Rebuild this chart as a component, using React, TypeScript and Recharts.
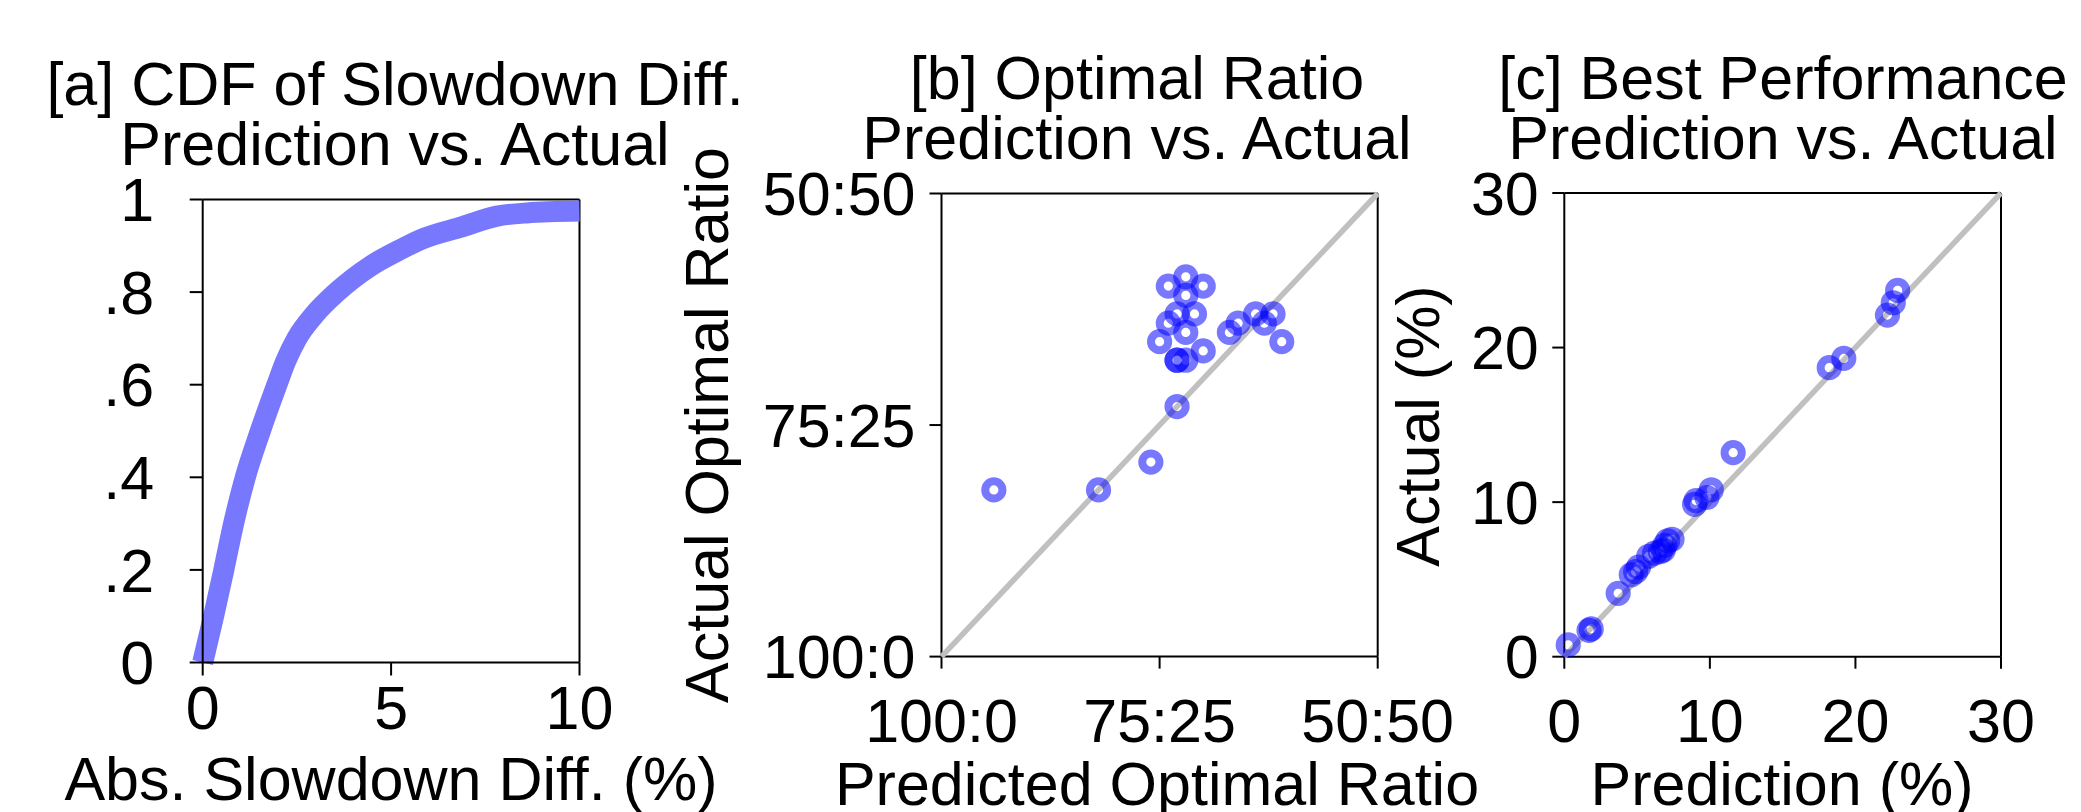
import {
    LineChart,
    Line,
    ScatterChart,
    Scatter,
    XAxis,
    YAxis,
    ReferenceLine,
} from "recharts";

// [a] CDF of |slowdown diff|
const cdfDiff = [0, 0.29, 0.56, 0.82, 1.13, 1.53, 1.97, 2.2, 2.5, 2.95, 3.56, 4.45, 5.2, 5.77, 6.92, 7.81, 8.6, 10];
const cdfFrac = [0, 0.1, 0.2, 0.3, 0.4, 0.5, 0.6, 0.65, 0.7, 0.75, 0.8, 0.856, 0.89, 0.913, 0.942, 0.964, 0.971, 0.975];
const cdfTicksX = [0, 5, 10];
const cdfTicksY = [0, 0.2, 0.4, 0.6, 0.8, 1];

// [b] optimal ratio (second share of the split, 0..50)
const ratioPred = [6, 18, 24, 27, 27, 27, 28, 30, 25, 28, 26, 27, 29, 26, 28, 30, 28, 33, 34, 36, 37, 38, 39];
const ratioActual = [18, 18, 21, 27, 32, 32, 32, 33, 34, 35, 36, 37, 37, 40, 41, 40, 39, 35, 36, 37, 36, 37, 34];
const ratioTicks = [0, 25, 50];

// [c] best performance (%)
const perfPred = [0.27, 1.7, 1.85, 3.7, 4.6, 4.9, 5.1, 5.8, 6.2, 6.6, 6.9, 7.1, 7.4, 6.8, 8.95, 9.05, 9.8, 10.1, 11.6, 18.2, 19.2, 22.2, 22.6, 22.9];
const perfActual = [0.76, 1.7, 1.8, 4.1, 5.3, 5.5, 5.8, 6.5, 6.7, 6.8, 7.2, 7.5, 7.6, 6.9, 9.85, 10.1, 10.3, 10.8, 13.2, 18.7, 19.3, 22.1, 22.9, 23.7];
const perfTicks = [0, 10, 20, 30];

const FONT = "'Liberation Sans', Arial, Helvetica, sans-serif";
const tickStyle = { fontFamily: FONT, fontSize: 61, fill: "#000" };
const axisLine = { stroke: "#000", strokeWidth: 2 };

const cdfData = cdfDiff.map((x, i) => ({ x, y: cdfFrac[i] }));
const ratioData = ratioPred.map((x, i) => ({ x, y: ratioActual[i] }));
const perfData = perfPred.map((x, i) => ({ x, y: perfActual[i] }));
// y = x guide lines, from corner to corner of each domain
const ratioDiag = [0, 50].map((v) => ({ x: v, y: v }));
const perfDiag = [0, 30].map((v) => ({ x: v, y: v }));

const fracLabel = (v: number) => (v === 0 ? "0" : v === 1 ? "1" : "." + Math.round(v * 10));
const ratioLabel = (v: number) => `${100 - v}:${v}`;

const Ring = (props: any) => (
    <circle
        cx={props.cx}
        cy={props.cy}
        r={8.6}
        fill="none"
        stroke="#0000ff"
        strokeOpacity={0.53}
        strokeWidth={8}
    />
);
const NoDot = () => <g />;
const diagLine = { stroke: "#c0c0c0", strokeWidth: 5.5 };

export default function App() {
    return (
        <div style={{ position: "absolute", left: 0, top: 0, width: 2081, height: 812, background: "#fff" }}>
            <div style={{ position: "absolute", left: 0, top: 0 }}>
                <LineChart
                    width={620}
                    height={812}
                    data={cdfData}
                    margin={{ top: 199.5, right: 40.5, left: 0, bottom: 0 }}
                >
                    <XAxis
                        dataKey="x"
                        type="number"
                        domain={[0, 10]}
                        ticks={cdfTicksX}
                        interval={0}
                        height={149.5}
                        tickSize={13}
                        tickMargin={10.5}
                        axisLine={axisLine}
                        tickLine={axisLine}
                        tick={tickStyle}
                    />
                    <YAxis
                        type="number"
                        domain={[0, 1]}
                        ticks={cdfTicksY}
                        interval={0}
                        width={202.7}
                        tickSize={13}
                        tickMargin={35.5}
                        tickFormatter={fracLabel}
                        axisLine={axisLine}
                        tickLine={axisLine}
                        tick={tickStyle}
                    />
                    <ReferenceLine y={1} stroke="#000" strokeWidth={2} />
                    <ReferenceLine x={10} stroke="#000" strokeWidth={2} />
                    <Line
                        type="monotone"
                        dataKey="y"
                        stroke="#7878ff"
                        strokeWidth={21}
                        dot={false}
                        activeDot={false}
                        isAnimationActive={false}
                    />
                </LineChart>
            </div>

            <div style={{ position: "absolute", left: 760, top: 0 }}>
                <ScatterChart
                    width={740}
                    height={812}
                    margin={{ top: 193.5, right: 122.3, left: 0, bottom: 0 }}
                >
                    <XAxis
                        dataKey="x"
                        type="number"
                        domain={[0, 50]}
                        ticks={ratioTicks}
                        interval={0}
                        height={155.4}
                        tickSize={12}
                        tickMargin={30}
                        tickFormatter={ratioLabel}
                        axisLine={axisLine}
                        tickLine={axisLine}
                        tick={tickStyle}
                    />
                    <YAxis
                        dataKey="y"
                        type="number"
                        domain={[0, 50]}
                        ticks={ratioTicks}
                        interval={0}
                        width={181.5}
                        tickSize={12}
                        tickMargin={14}
                        tickFormatter={ratioLabel}
                        axisLine={axisLine}
                        tickLine={axisLine}
                        tick={tickStyle}
                    />
                    <ReferenceLine y={50} stroke="#000" strokeWidth={2} />
                    <ReferenceLine x={50} stroke="#000" strokeWidth={2} />
                    <Scatter data={ratioDiag} line={diagLine} shape={NoDot} isAnimationActive={false} />
                    <Scatter data={ratioData} shape={Ring} isAnimationActive={false} />
                </ScatterChart>
            </div>

            <div style={{ position: "absolute", left: 1400, top: 0 }}>
                <ScatterChart
                    width={660}
                    height={812}
                    margin={{ top: 193, right: 59, left: 0, bottom: 0 }}
                >
                    <XAxis
                        dataKey="x"
                        type="number"
                        domain={[0, 30]}
                        ticks={perfTicks}
                        interval={0}
                        height={155.3}
                        tickSize={12}
                        tickMargin={30}
                        axisLine={axisLine}
                        tickLine={axisLine}
                        tick={tickStyle}
                    />
                    <YAxis
                        dataKey="y"
                        type="number"
                        domain={[0, 30]}
                        ticks={perfTicks}
                        interval={0}
                        width={164.3}
                        tickSize={12}
                        tickMargin={13.5}
                        axisLine={axisLine}
                        tickLine={axisLine}
                        tick={tickStyle}
                    />
                    <ReferenceLine y={30} stroke="#000" strokeWidth={2} />
                    <ReferenceLine x={30} stroke="#000" strokeWidth={2} />
                    <Scatter data={perfDiag} line={diagLine} shape={NoDot} isAnimationActive={false} />
                    <Scatter data={perfData} shape={Ring} isAnimationActive={false} />
                </ScatterChart>
            </div>

            {/* titles and axis names */}
            <svg
                width={2081}
                height={812}
                style={{ position: "absolute", left: 0, top: 0, pointerEvents: "none" }}
                fontFamily={FONT}
                fontSize={61}
                fill="#000"
                textAnchor="middle"
            >
                <text x={395} y={105}>[a] CDF of Slowdown Diff.</text>
                <text x={395} y={165}>Prediction vs. Actual</text>
                <text x={1137} y={99}>[b] Optimal Ratio</text>
                <text x={1137} y={159}>Prediction vs. Actual</text>
                <text x={1783} y={99}>[c] Best Performance</text>
                <text x={1783} y={159}>Prediction vs. Actual</text>

                <text x={391} y={800}>Abs. Slowdown Diff. (%)</text>
                <text x={1157} y={805}>Predicted Optimal Ratio</text>
                <text x={1782} y={805}>Prediction (%)</text>

                <text transform="translate(728,425) rotate(-90)">Actual Optimal Ratio</text>
                <text transform="translate(1439,426) rotate(-90)">Actual (%)</text>
            </svg>
        </div>
    );
}
